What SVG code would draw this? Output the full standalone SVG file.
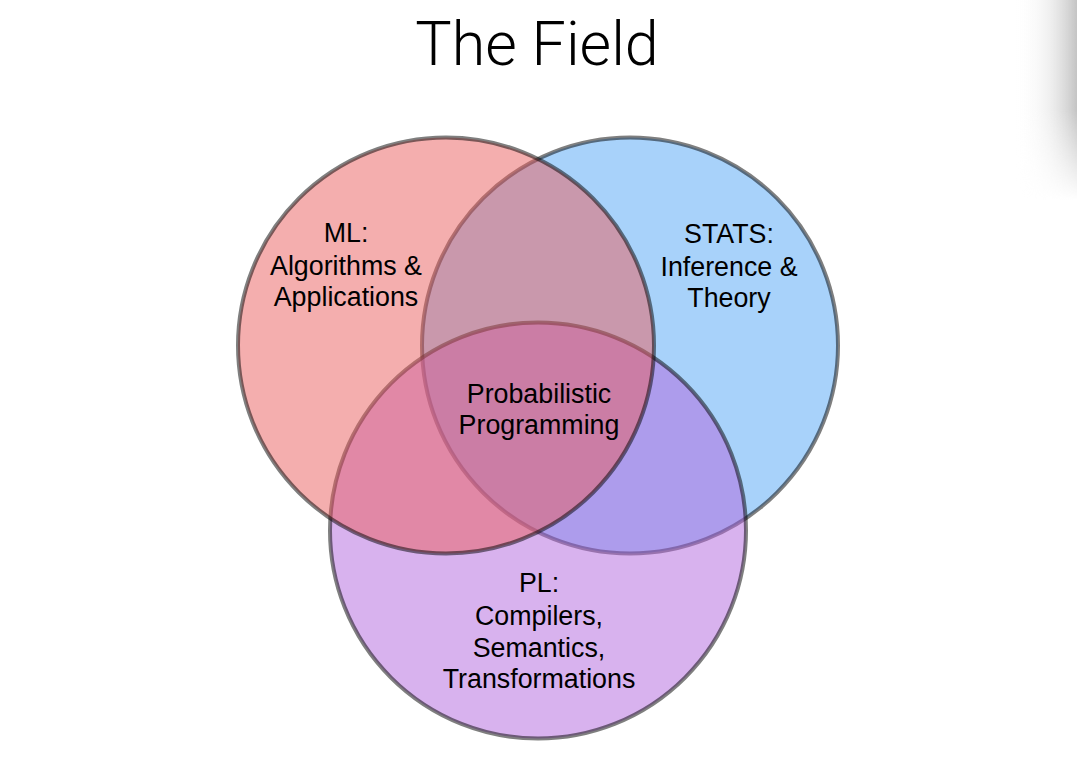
<svg xmlns="http://www.w3.org/2000/svg" width="1077" height="777" viewBox="0 0 1077 777">
  <defs>
    <linearGradient id="edgeShade" x1="0" y1="0" x2="1" y2="0">
      <stop offset="0" stop-color="#ffffff" stop-opacity="0"/>
      <stop offset="0.55" stop-color="#e6e6e6" stop-opacity="0.6"/>
      <stop offset="1" stop-color="#c4c4c4" stop-opacity="1"/>
    </linearGradient>
    <linearGradient id="edgeFade" x1="0" y1="0" x2="0" y2="1">
      <stop offset="0" stop-color="#fff"/>
      <stop offset="0.55" stop-color="#fff"/>
      <stop offset="1" stop-color="#000"/>
    </linearGradient>
    <mask id="edgeMask">
      <rect x="1015" y="0" width="62" height="200" fill="url(#edgeFade)"/>
    </mask>
  </defs>
  <style>
    .set { stroke: #000; stroke-opacity: 0.5; stroke-width: 4; fill-opacity: 0.5; }
    .label { font-family: "Liberation Sans", Arial, Helvetica, sans-serif; font-size: 26.8px; fill: #000; text-anchor: middle; }
    .title { font-family: Roboto, "Open Sans", sans-serif; font-weight: 300; font-size: 61px; fill: #000; text-anchor: middle; }
  </style>

  <rect width="1077" height="777" fill="#ffffff"/>
  <!-- soft shade along the top right edge -->
  <rect x="1015" y="0" width="62" height="200" fill="url(#edgeShade)" mask="url(#edgeMask)"/>

  <text class="title" x="537" y="65">The Field</text>

  <!-- sets, painted back to front -->
  <g id="stats">
    <circle class="set" cx="630" cy="345.5" r="208" fill="#51a5f5"/>
  </g>
  <g id="pl">
    <circle class="set" cx="538" cy="530.5" r="208" fill="#b165dd"/>
  </g>
  <g id="ml">
    <circle class="set" cx="446" cy="345.5" r="208" fill="#e95d5d"/>
  </g>

  <!-- no connectors in this diagram -->
  <g id="connectors"/>

  <g id="labels">
    <g id="ml-label">
      <text class="label" x="346" y="242">ML:</text>
      <text class="label" x="346" y="275">Algorithms &amp;</text>
      <text class="label" x="346" y="306">Applications</text>
    </g>
    <g id="stats-label">
      <text class="label" x="729" y="243">STATS:</text>
      <text class="label" x="729" y="276">Inference &amp;</text>
      <text class="label" x="729" y="307">Theory</text>
    </g>
    <g id="core-label">
      <text class="label" x="539" y="403">Probabilistic</text>
      <text class="label" x="539" y="434">Programming</text>
    </g>
    <g id="pl-label">
      <text class="label" x="539" y="592">PL:</text>
      <text class="label" x="539" y="625">Compilers,</text>
      <text class="label" x="539" y="657">Semantics,</text>
      <text class="label" x="539" y="688">Transformations</text>
    </g>
  </g>
</svg>
